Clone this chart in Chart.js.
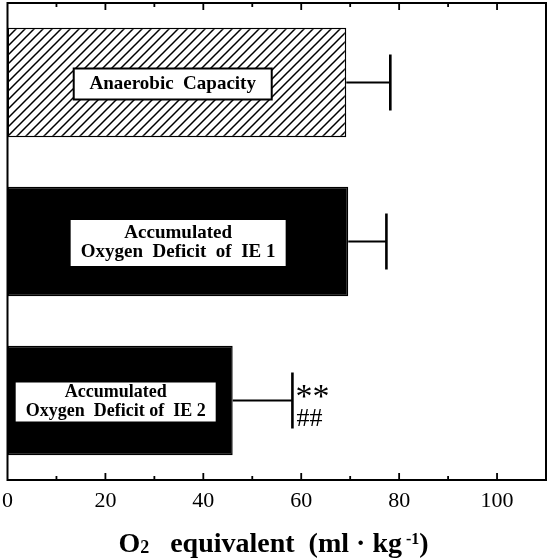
<!DOCTYPE html>
<html><head><meta charset="utf-8">
<script src="https://cdn.jsdelivr.net/npm/chart.js@4.4.1/dist/chart.umd.min.js"></script>
<style>html,body{margin:0;padding:0;background:#fff;} #wrap{width:551px;height:558px;}</style>
</head><body><div id="wrap"><canvas id="c"></canvas></div>
<script>
// ---- data ----
const categories = ['Anaerobic Capacity', 'Accumulated Oxygen Deficit of IE 1', 'Accumulated Oxygen Deficit of IE 2'];
const meanValues = [69.2, 69.6, 46.0];
const sdValues = [9.0, 7.8, 12.2];
const sigVsCapacity = ['', '', '**'];
const sigVsIE1 = ['', '', '##'];
const boxLabels = [['Anaerobic  Capacity'], ['Accumulated', 'Oxygen  Deficit  of  IE 1'], ['Accumulated', 'Oxygen  Deficit of  IE 2']];
const xTickLabels = [0, 20, 40, 60, 80, 100];
const xMin = 0, xMax = 110, xStep = 10;

// ---- hatch pattern ----
const tmp = document.createElement('canvas').getContext('2d');
const hatch = (function(){
  const s = 9;
  const pc = document.createElement('canvas'); pc.width = s; pc.height = s;
  const p = pc.getContext('2d');
  p.fillStyle = '#fff'; p.fillRect(0, 0, s, s);
  p.strokeStyle = '#000'; p.lineWidth = 1.5;
  p.beginPath();
  p.moveTo(-1, s + 1); p.lineTo(s + 1, -1);
  p.moveTo(-2, 2); p.lineTo(2, -2);
  p.moveTo(s - 2, s + 2); p.lineTo(s + 2, s - 2);
  p.stroke();
  return tmp.createPattern(pc, 'repeat');
})();

const SERIF = '"Liberation Serif", "Times New Roman", serif';

// ---- plugin: error bars, labels, frame, ticks, title ----
const decor = {
  id: 'decor',
  afterDraw(chart) {
    const ctx = chart.ctx;
    const xs = chart.scales.x;
    const ca = chart.chartArea;
    const meta = chart.getDatasetMeta(0);
    ctx.save();
    ctx.strokeStyle = '#000'; ctx.fillStyle = '#000';
    // error bars
    meta.data.forEach((bar, i) => {
      const y = bar.y;
      const x0 = xs.getPixelForValue(meanValues[i]);
      const x1 = xs.getPixelForValue(meanValues[i] + sdValues[i]);
      ctx.lineWidth = 2;
      ctx.beginPath(); ctx.moveTo(x0, y); ctx.lineTo(x1, y); ctx.stroke();
      ctx.lineWidth = 2.6;
      ctx.beginPath(); ctx.moveTo(x1, y - 28); ctx.lineTo(x1, y + 28); ctx.stroke();
      const sx = x1 + 4;
      if (sigVsCapacity[i]) {
        ctx.font = '34px ' + SERIF; ctx.textAlign = 'left'; ctx.textBaseline = 'alphabetic';
        ctx.fillText(sigVsCapacity[i], sx - 1, y - 10 + 16);
      }
      if (sigVsIE1[i]) {
        ctx.font = '26px ' + SERIF; ctx.textAlign = 'left'; ctx.textBaseline = 'alphabetic';
        ctx.fillText(sigVsIE1[i], sx, y + 16 + 9);
      }
    });
    // label boxes
    const boxGeom = [
      {cx: 33.75, w: 198, h: 31, fs: 19, lh: 19},
      {cx: 34.86, w: 217, h: 48, fs: 19, lh: 19},
      {cx: 22.1,  w: 202, h: 41, fs: 18, lh: 19}
    ];
    meta.data.forEach((bar, i) => {
      const g = boxGeom[i];
      const cx = xs.getPixelForValue(g.cx);
      const cy = bar.y + 1.5;
      ctx.fillStyle = '#fff';
      ctx.fillRect(cx - g.w / 2, cy - g.h / 2, g.w, g.h);
      ctx.lineWidth = 2; ctx.strokeStyle = '#000';
      ctx.strokeRect(cx - g.w / 2, cy - g.h / 2, g.w, g.h);
      ctx.fillStyle = '#000';
      ctx.font = 'bold ' + g.fs + 'px ' + SERIF;
      ctx.textAlign = 'center'; ctx.textBaseline = 'middle';
      const lines = boxLabels[i];
      const n = lines.length;
      lines.forEach((t, k) => {
        ctx.fillText(t, cx, cy + (k - (n - 1) / 2) * g.lh);
      });
    });
    // frame
    ctx.lineWidth = 2; ctx.strokeStyle = '#000';
    ctx.strokeRect(ca.left, ca.top, ca.right - ca.left, ca.bottom - ca.top);
    // inward ticks top and bottom
    ctx.lineWidth = 1.8;
    xs.ticks.forEach(t => {
      const v = t.value;
      if (v <= xMin || v >= xMax) return;
      const px = xs.getPixelForValue(v);
      const len = (v % 20 === 0) ? 7 : 4;
      ctx.beginPath();
      ctx.moveTo(px, ca.bottom); ctx.lineTo(px, ca.bottom - len);
      ctx.moveTo(px, ca.top); ctx.lineTo(px, ca.top + len);
      ctx.stroke();
    });
    // axis title with sub/superscript
    const parts = [
      {t: 'O', fs: 28, dy: 0},
      {t: '2', fs: 18, dy: 1},
      {t: '   equivalent  (ml \u00b7 kg', fs: 28, dy: 0},
      {t: ' -1', fs: 16, dy: -8},
      {t: ')', fs: 28, dy: 0}
    ];
    ctx.textAlign = 'left'; ctx.textBaseline = 'alphabetic';
    let total = 0;
    parts.forEach(p => { ctx.font = 'bold ' + p.fs + 'px ' + SERIF; p.w = ctx.measureText(p.t).width; total += p.w; });
    let x = chart.width / 2 - 2 - total / 2;
    const base = 552;
    parts.forEach(p => {
      ctx.font = 'bold ' + p.fs + 'px ' + SERIF;
      ctx.fillText(p.t, x, base + p.dy);
      x += p.w;
    });
    ctx.restore();
  }
};

new Chart(document.getElementById('c'), {
  type: 'bar',
  data: {
    labels: categories,
    datasets: [{
      data: meanValues,
      backgroundColor: [hatch, '#000', '#000'],
      borderColor: '#000',
      borderWidth: 1.5,
      borderSkipped: false,
      barPercentage: 0.69,
      categoryPercentage: 1
    }]
  },
  options: {
    indexAxis: 'y',
    responsive: true,
    maintainAspectRatio: false,
    animation: false,
    layout: {padding: {left: 7.5, top: 3, right: 5, bottom: 0}},
    plugins: {legend: {display: false}, tooltip: {enabled: false}},
    scales: {
      x: {
        type: 'linear', min: xMin, max: xMax, position: 'bottom',
        grid: {display: false, drawTicks: false},
        border: {display: false},
        ticks: {
          stepSize: xStep, autoSkip: false, maxRotation: 0, padding: 8,
          color: '#000', font: {family: SERIF, size: 22},
          callback: (v) => xTickLabels.includes(v) ? String(v) : ''
        },
        afterFit: (s) => { s.height = 78; s.paddingLeft = 0; s.paddingRight = 0; }
      },
      y: {type: 'category', display: false, offset: true}
    }
  },
  plugins: [decor]
});
</script></body></html>
